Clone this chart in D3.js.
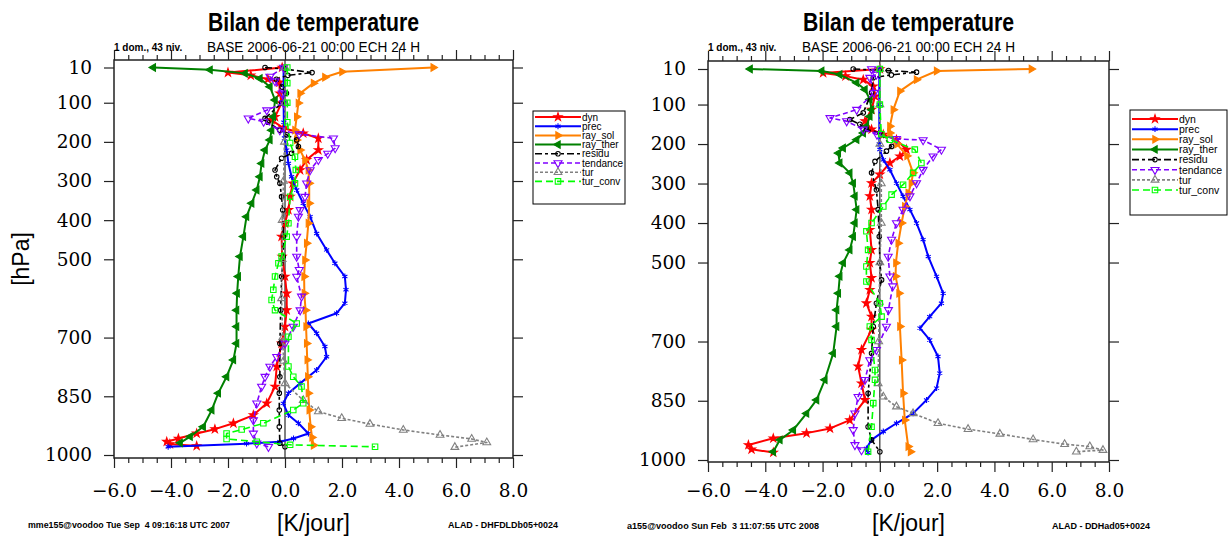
<!DOCTYPE html>
<html>
<head>
<meta charset="utf-8">
<script src="https://cdn.jsdelivr.net/npm/d3@7"></script>
<style>
  body { margin: 0; background: #fff; }
  svg { display: block; }
  text { font-family: "Liberation Sans", Arial, sans-serif; fill: #000; }
  .tick text { font-family: "DejaVu Serif", serif; font-size: 18.5px; }
  .pre { white-space: pre; }
</style>
</head>
<body>
<svg id="chart" width="1229" height="538"></svg>
<script>
// ticks
const levelTicks = [10, 100, 200, 300, 400, 500, 700, 850, 1000]
const kTicks = [-6, -4, -2, 0, 2, 4, 6, 8]
const seriesNames = ['dyn', 'prec', 'ray_sol', 'ray_ther', 'residu', 'tendance', 'tur', 'tur_conv']

// panneau gauche : [pression hPa, K/jour]
const dynL = [[10,-0.1],[23,-2.0],[30,-1.2],[40,-0.6],[48,-0.2],[76,-0.18],[101,-0.12],[136,-0.35],[144,-0.47],[165,-0.06],[178,0.64],[191,1.17],[221,1.17],[246,0.76],[272,0.53],[306,0.27],[340,0.18],[374,0.12],[408,0.0],[442,-0.12],[493,-0.1],[544,0.0],[587,0.06],[630,0.06],[672,0.0],[715,-0.12],[774,-0.29],[825,-0.35],[868,-0.64],[898,-1.11],[919,-1.81],[934,-2.46],[945,-3.1],[958,-3.74],[966,-4.15],[972,-4.04],[977,-3.1]]
const precL = [[10,-0.05],[55,-0.05],[100,-0.05],[150,-0.04],[190,-0.02],[221,0.06],[255,0.12],[289,0.23],[323,0.41],[357,0.64],[391,0.88],[434,1.11],[476,1.46],[510,1.75],[544,2.1],[578,2.14],[612,2.1],[638,1.81],[664,0.82],[689,1.11],[723,1.4],[749,1.46],[783,1.11],[817,0.53],[842,0.12],[868,-0.06],[898,0.12],[919,0.47],[945,0.82],[958,0.3],[966,-0.18],[971,-1.35],[979,-4.1]]
const raySolL = [[10,5.2],[21,2.0],[35,1.4],[50,1.0],[76,0.53],[101,0.47],[136,0.41],[170,0.35],[195,0.41],[221,0.53],[246,0.7],[272,0.82],[306,0.85],[357,0.85],[408,0.82],[459,0.76],[502,0.7],[544,0.67],[587,0.68],[630,0.72],[672,0.74],[715,0.76],[757,0.78],[800,0.8],[842,0.82],[885,0.85],[928,0.9],[955,0.95],[975,1.0]]
const rayTherL = [[10,-4.62],[16,-2.63],[25,-1.4],[38,-0.88],[59,-0.53],[93,-0.35],[136,-0.41],[170,-0.47],[195,-0.53],[221,-0.7],[255,-0.82],[289,-0.88],[323,-0.99],[357,-1.17],[391,-1.35],[442,-1.46],[493,-1.58],[544,-1.64],[587,-1.68],[630,-1.7],[672,-1.7],[715,-1.7],[757,-1.81],[800,-2.05],[842,-2.34],[885,-2.57],[928,-2.87],[953,-3.33],[969,-3.68]]
const residuL = [[10,-0.7],[14,0.0],[23,0.95],[30,0.1],[40,-0.3],[60,-0.1],[76,0.05],[101,-0.12],[140,-0.7],[150,-0.6],[170,-0.18],[182,0.06],[195,0.41],[212,0.47],[229,0.23],[242,-0.12],[272,-0.35],[289,-0.29],[306,-0.18],[340,-0.12],[374,-0.08],[442,-0.06],[493,-0.06],[544,-0.12],[630,-0.15],[715,-0.18],[800,-0.18],[842,-0.2],[885,-0.2],[928,-0.2],[970,-0.18],[979,0.0]]
const tendanceL = [[10,-0.05],[33,-0.53],[45,-0.35],[76,-0.1],[101,-0.05],[119,-0.64],[140,-1.29],[148,-0.75],[170,-0.18],[180,0.5],[191,1.7],[216,1.76],[230,1.5],[246,1.17],[272,0.88],[306,0.76],[340,0.7],[374,0.53],[391,0.47],[442,0.41],[493,0.41],[527,0.5],[544,0.41],[595,0.58],[630,0.53],[672,0.29],[715,0.0],[749,-0.29],[774,-0.53],[800,-0.7],[825,-0.82],[868,-0.99],[911,-1.11],[945,-1.11],[970,-0.99],[979,-0.58]]
const turL = [[10,0.0],[100,0.0],[200,-0.02],[300,-0.05],[400,-0.1],[500,-0.1],[600,-0.12],[700,-0.08],[760,-0.05],[817,0.0],[860,0.64],[889,1.17],[906,1.99],[921,2.98],[936,4.15],[949,5.44],[959,6.55],[968,7.08],[980,5.96]]
const turConvL = [[10,0.08],[50,0.08],[100,0.08],[150,0.08],[203,0.18],[238,0.35],[272,0.38],[306,0.35],[340,0.18],[408,0.12],[442,0.06],[493,-0.12],[510,-0.23],[544,-0.35],[578,-0.41],[604,-0.47],[630,-0.35],[664,0.41],[698,0.12],[774,0.12],[800,0.29],[825,0.58],[868,0.64],[885,0.29],[919,-0.76],[935,-1.52],[945,-2.05],[959,-2.05],[966,-0.99],[974,0.18],[979,3.16]]

// panneau droit
const dynR = [[10,0.0],[20,-1.98],[28,-1.2],[37,-0.58],[54,-0.23],[79,-0.17],[113,-0.29],[142,-0.52],[163,-0.29],[176,0.12],[189,0.58],[214,0.93],[231,0.7],[248,0.35],[277,0.0],[299,-0.29],[332,-0.35],[366,-0.29],[417,-0.35],[468,-0.29],[501,-0.35],[539,-0.29],[569,-0.35],[603,-0.47],[637,-0.29],[670,-0.29],[721,-0.64],[763,-0.76],[806,-0.64],[848,-0.52],[899,-1.05],[920,-1.74],[932,-2.56],[945,-3.72],[962,-4.59],[973,-4.48],[981,-3.72]]
const precR = [[10,-0.02],[100,-0.02],[200,-0.02],[214,0.0],[240,0.12],[265,0.35],[299,0.58],[332,0.81],[366,1.05],[400,1.28],[442,1.51],[485,1.69],[535,1.98],[578,2.21],[603,2.15],[637,1.74],[666,1.4],[696,1.74],[738,2.03],[780,2.09],[818,1.98],[848,1.63],[882,1.16],[907,0.58],[928,0.12],[949,-0.29],[971,-0.47],[981,-0.41]]
const raySolR = [[10,5.29],[15,1.98],[37,1.28],[66,0.7],[113,0.47],[155,0.35],[172,0.35],[200,0.6],[230,0.95],[273,1.16],[299,1.1],[324,0.99],[358,0.87],[400,0.76],[451,0.64],[501,0.56],[535,0.55],[578,0.67],[662,0.7],[747,0.76],[831,0.81],[899,0.87],[966,0.99],[979,1.07]]
const rayTherR = [[10,-4.53],[15,-2.03],[24,-1.4],[45,-0.81],[62,-0.52],[87,-0.35],[113,-0.29],[130,-0.35],[155,-0.47],[172,-0.58],[189,-0.81],[210,-1.28],[223,-1.45],[248,-1.4],[273,-1.05],[299,-0.93],[332,-0.87],[366,-0.81],[400,-0.87],[434,-0.93],[468,-1.05],[501,-1.28],[535,-1.4],[578,-1.45],[620,-1.51],[662,-1.51],[730,-1.63],[797,-1.92],[848,-2.21],[882,-2.56],[924,-3.02],[949,-3.49],[979,-3.72]]
const residuR = [[10,-0.93],[14,0.3],[18,1.28],[25,0.4],[32,-0.23],[70,-0.29],[121,-0.58],[138,-1.05],[150,-0.7],[163,-0.47],[172,0.0],[206,0.41],[218,0.23],[244,-0.17],[273,-0.29],[316,-0.12],[366,-0.06],[434,-0.02],[501,0.0],[544,0.06],[603,-0.12],[662,-0.23],[730,-0.29],[831,-0.41],[916,-0.41],[949,-0.29],[979,0.0]]
const tendanceR = [[10,-0.29],[24,-0.12],[32,-0.35],[70,-0.2],[113,-0.81],[134,-1.74],[142,-1.16],[163,-0.58],[176,-0.1],[187,0.58],[190,1.51],[214,2.15],[231,1.86],[265,1.51],[299,1.28],[332,1.05],[366,0.81],[400,0.58],[442,0.41],[485,0.29],[535,0.35],[560,0.45],[620,0.3],[662,0.23],[721,-0.12],[747,-0.35],[797,-0.52],[840,-0.76],[882,-0.87],[924,-0.93],[962,-0.87],[975,-0.64]]
const turR = [[10,0.0],[100,0.0],[200,0.0],[300,0.05],[400,0.05],[500,0.0],[600,-0.02],[700,-0.04],[806,-0.06],[840,0.12],[865,0.58],[882,1.16],[907,2.03],[922,3.08],[934,4.19],[948,5.35],[960,6.45],[966,7.33],[975,7.79],[979,6.86]]
const turConvR = [[10,0.0],[100,0.0],[175,0.05],[189,0.35],[214,1.22],[248,1.45],[273,1.16],[303,0.81],[328,0.41],[358,0.12],[400,-0.29],[421,-0.47],[468,-0.41],[510,-0.47],[548,-0.47],[603,0.0],[637,0.06],[662,-0.35],[696,-0.29],[772,-0.17],[797,-0.17],[856,-0.23],[916,-0.29],[979,-0.41]]

const titleText = 'Bilan de temperature'
const subLeftText = '1 dom., 43 niv.'
const subText = 'BASE 2006-06-21 00:00 ECH 24 H'
const footLeft = ['mme155@voodoo Tue Sep  4 09:16:18 UTC 2007', 'a155@voodoo Sun Feb  3 11:07:55 UTC 2008']
const footRight = ['ALAD - DHFDLDb05+0024', 'ALAD - DDHad05+0024']

// styles des courbes
const style = {
  dyn:      { color: '#ff0000', dash: null,      w: 2,   sym: d3.symbolStar,     size: 20, fill: true,  rot: 0 },
  prec:     { color: '#0000ff', dash: null,      w: 2,   sym: d3.symbolAsterisk, size: 24, fill: false, rot: 0 },
  ray_sol:  { color: '#ff8000', dash: null,      w: 2,   sym: d3.symbolTriangle, size: 24, fill: true,  rot: 90 },
  ray_ther: { color: '#008000', dash: null,      w: 2,   sym: d3.symbolTriangle, size: 24, fill: true,  rot: -90 },
  residu:   { color: '#000000', dash: '7,3,3,3', w: 1.6, sym: d3.symbolCircle,   size: 16, fill: false, rot: 0 },
  tendance: { color: '#8000ff', dash: '5,3',     w: 1.6, sym: d3.symbolTriangle, size: 28, fill: false, rot: 180 },
  tur:      { color: '#808080', dash: '3,2',     w: 1.6, sym: d3.symbolTriangle, size: 26, fill: false, rot: 0 },
  tur_conv: { color: '#00ff00', dash: '7,4',     w: 1.6, sym: d3.symbolSquare,   size: 30, fill: false, rot: 0 }
}

const panels = [
  {
    xr: [114, 513], fy: [60, 458], yr: [67.5, 455],
    data: [dynL, precL, raySolL, rayTherL, residuL, tendanceL, turL, turConvL],
    leg: { x: 533, y: 111, w: 92, h: 93, first: 117, step: 9.2, fs: 10 },
    foot: 0, footX: [28, 448], footW: [202, 110], footY: 527.5, hpa: true
  },
  {
    xr: [708, 1109], fy: [61, 462], yr: [69, 460],
    data: [dynR, precR, raySolR, rayTherR, residuR, tendanceR, turR, turConvR],
    leg: { x: 1130, y: 110, w: 97, h: 105, first: 119, step: 10.15, fs: 10.5 },
    foot: 1, footX: [627, 1052], footW: [192, 98], footY: 529, hpa: false
  }
]

const svg = d3.select('#chart')

function marker(g, st, cx, cy) {
  g.append('path')
    .attr('d', d3.symbol().type(st.sym).size(st.size)())
    .attr('transform', `translate(${cx},${cy}) rotate(${st.rot})`)
    .attr('fill', st.fill ? st.color : 'none')
    .attr('stroke', st.color)
    .attr('stroke-width', 1.1)
}

panels.forEach(P => {
  const x = d3.scaleLinear().domain([-6, 8]).range(P.xr)
  const y = d3.scaleLinear().domain([10, 1000]).range(P.yr)
  const g = svg.append('g')
  const cx = (P.xr[0] + P.xr[1]) / 2

  // titres
  g.append('text').attr('x', cx).attr('y', 30.5).attr('text-anchor', 'middle')
    .attr('font-size', 25).attr('font-weight', 'bold')
    .attr('textLength', 211).attr('lengthAdjust', 'spacingAndGlyphs').text(titleText)
  g.append('text').attr('x', P.xr[0]).attr('y', 50.5)
    .attr('font-size', 10).attr('font-weight', 'bold').text(subLeftText)
  g.append('text').attr('x', cx).attr('y', 52.4).attr('text-anchor', 'middle')
    .attr('font-size', 14.4).attr('textLength', 213).attr('lengthAdjust', 'spacingAndGlyphs').text(subText)

  // axes
  const minor = d3.range(-6, 8.001, 0.5).filter(v => !kTicks.includes(v))
  const tickStyle = s => {
    s.select('.domain').remove()
    s.selectAll('line').attr('stroke', '#222').attr('stroke-width', 1.2)
  }
  const bot = g.append('g').attr('transform', `translate(0,${P.fy[1]})`)
    .call(d3.axisBottom(x).tickValues(kTicks).tickSize(10).tickFormat(d3.format('.1f'))).call(tickStyle)
  bot.selectAll('text').attr('y', 497 - P.fy[1]).attr('dy', 0)
  g.append('g').attr('transform', `translate(0,${P.fy[1]})`)
    .call(d3.axisBottom(x).tickValues(minor).tickSize(5).tickFormat('')).call(tickStyle)
  g.append('g').attr('transform', `translate(0,${P.fy[0]})`)
    .call(d3.axisTop(x).tickValues(kTicks).tickSize(10).tickFormat('')).call(tickStyle)
  g.append('g').attr('transform', `translate(0,${P.fy[0]})`)
    .call(d3.axisTop(x).tickValues(minor).tickSize(5).tickFormat('')).call(tickStyle)
  g.append('g').attr('transform', `translate(${P.xr[0]},0)`)
    .call(d3.axisLeft(y).tickValues(levelTicks).tickSize(10).tickPadding(12).tickFormat(d3.format('d'))).call(tickStyle)
  g.append('g').attr('transform', `translate(${P.xr[1]},0)`)
    .call(d3.axisRight(y).tickValues(levelTicks).tickSize(10).tickFormat('')).call(tickStyle)

  // ligne zero
  g.append('line').attr('x1', x(0)).attr('x2', x(0)).attr('y1', P.fy[0]).attr('y2', P.fy[1])
    .attr('stroke', '#000').attr('stroke-width', 1)

  // courbes
  const line = d3.line().x(d => x(d[1])).y(d => y(d[0]))
  seriesNames.forEach((name, i) => {
    const st = style[name]
    const sg = g.append('g')
    sg.append('path').datum(P.data[i]).attr('d', line)
      .attr('fill', 'none').attr('stroke', st.color).attr('stroke-width', st.w)
      .attr('stroke-dasharray', st.dash).attr('stroke-linejoin', 'round')
    P.data[i].forEach(d => marker(sg, st, x(d[1]), y(d[0])))
  })

  // cadre
  g.append('rect').attr('x', P.xr[0]).attr('y', P.fy[0])
    .attr('width', P.xr[1] - P.xr[0]).attr('height', P.fy[1] - P.fy[0])
    .attr('fill', 'none').attr('stroke', '#222').attr('stroke-width', 1.5)

  // legende
  const L = P.leg
  const lg = g.append('g')
  lg.append('rect').attr('x', L.x).attr('y', L.y).attr('width', L.w).attr('height', L.h)
    .attr('fill', '#fff').attr('stroke', '#000').attr('stroke-width', 1)
  seriesNames.forEach((name, i) => {
    const st = style[name]
    const ly = L.first + i * L.step
    lg.append('line').attr('x1', L.x + 2).attr('x2', L.x + 48).attr('y1', ly).attr('y2', ly)
      .attr('stroke', st.color).attr('stroke-width', st.w).attr('stroke-dasharray', st.dash)
    marker(lg, st, L.x + 25, ly)
    lg.append('text').attr('x', L.x + 49).attr('y', ly + L.fs * 0.36).attr('font-size', L.fs).text(name)
  })

  // axe labels
  g.append('text').attr('x', cx).attr('y', 531).attr('text-anchor', 'middle')
    .attr('font-size', 23).text('[K/jour]')
  if (P.hpa) {
    g.append('text').attr('transform', `translate(28.5,${(P.fy[0] + P.fy[1]) / 2}) rotate(-90)`)
      .attr('text-anchor', 'middle').attr('font-size', 23).text('[hPa]')
  }

  // pied de page
  g.append('text').attr('class', 'pre').attr('x', P.footX[0]).attr('y', P.footY)
    .attr('font-size', 9).attr('font-weight', 'bold')
    .attr('textLength', P.footW[0]).attr('lengthAdjust', 'spacingAndGlyphs').text(footLeft[P.foot])
  g.append('text').attr('class', 'pre').attr('x', P.footX[1]).attr('y', P.footY)
    .attr('font-size', 9).attr('font-weight', 'bold')
    .attr('textLength', P.footW[1]).attr('lengthAdjust', 'spacingAndGlyphs').text(footRight[P.foot])
})
</script>
</body>
</html>
